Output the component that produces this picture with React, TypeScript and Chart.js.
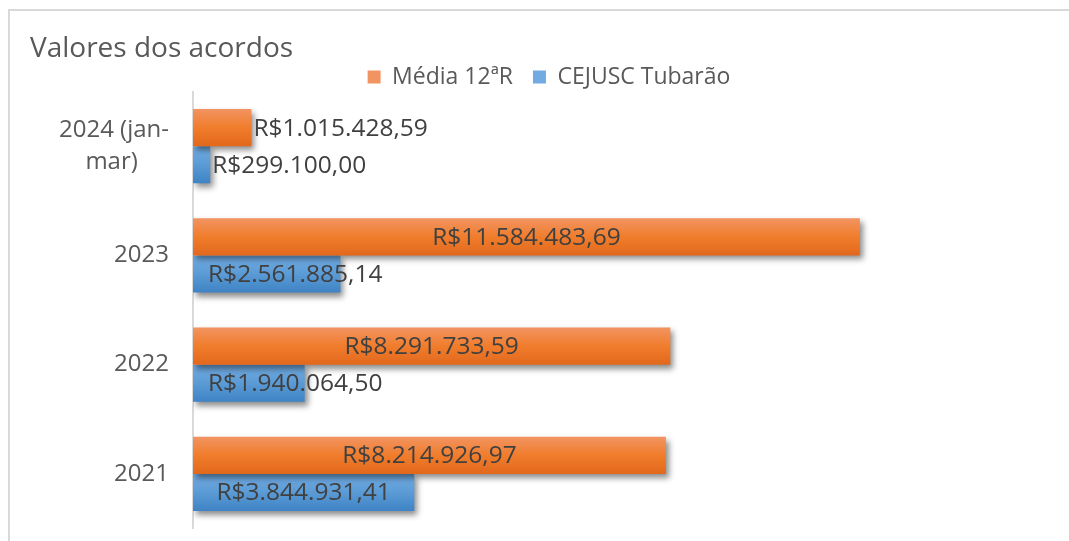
import React, { useEffect, useRef } from "react";
import { Chart, registerables } from "chart.js";

Chart.register(...registerables);

const TITLE = "Valores dos acordos";
const CATEGORIES: (string | string[])[] = [["2024 (jan-", "mar)"], "2023", "2022", "2021"];
const SERIES_NAMES = ["Média 12ªR", "CEJUSC Tubarão"];
const MEDIA_12R = [1015428.59, 11584483.69, 8291733.59, 8214926.97];
const CEJUSC_TUBARAO = [299100.0, 2561885.14, 1940064.5, 3844931.41];
const X_MAX = 15200000;

const FONT = "'Open Sans', 'Noto Sans', sans-serif";
const CAT_PCT = 0.68;
const TICK_SIZE = 24;
const LABEL_SIZE = 24.5;

const ORANGE_STOPS = ["#F29462", "#F07D2C", "#E2681C"];
const BLUE_STOPS = ["#72ABE2", "#5B9BD5", "#3E83C5"];

function formatBRL(v: number): string {
  const fixed = v.toFixed(2);
  const [intPart, dec] = fixed.split(".");
  const withDots = intPart.replace(/\B(?=(\d{3})+(?!\d))/g, ".");
  return "R$" + withDots + "," + dec;
}

function makeBg(stops: string[], solid: string) {
  return (ctx: any) => {
    const chart = ctx.chart;
    const yScale = chart.scales && chart.scales.y;
    if (ctx.type !== "data" || !yScale || !chart.chartArea) return solid;
    const center = yScale.getPixelForValue(ctx.dataIndex);
    const band = Math.abs(yScale.getPixelForValue(1) - yScale.getPixelForValue(0));
    const h = (band * CAT_PCT) / 2;
    const top = ctx.datasetIndex === 0 ? center - h : center;
    const g = chart.ctx.createLinearGradient(0, top, 0, top + h);
    g.addColorStop(0, stops[0]);
    g.addColorStop(0.5, stops[1]);
    g.addColorStop(1, stops[2]);
    return g;
  };
}

const shadowAndLabels = {
  id: "shadowAndLabels",
  beforeLayout(chart: any) {
    const legend = chart.legend;
    if (legend && !legend.__patched) {
      const orig = legend.fit.bind(legend);
      legend.fit = function () {
        orig();
        this.height = Math.max(0, this.height - 7);
      };
      legend.__patched = true;
    }
  },
  beforeDatasetsDraw(chart: any) {
    const ctx = chart.ctx;
    ctx.save();
    ctx.shadowColor = "rgba(0,0,0,0.45)";
    ctx.shadowBlur = 6;
    ctx.shadowOffsetX = 3;
    ctx.shadowOffsetY = 4;
  },
  afterDatasetsDraw(chart: any) {
    const ctx = chart.ctx;
    ctx.restore();
    ctx.save();
    ctx.font = `${LABEL_SIZE}px ${FONT}`;
    ctx.fillStyle = "#404040";
    ctx.textBaseline = "middle";
    chart.data.datasets.forEach((ds: any, di: number) => {
      const meta = chart.getDatasetMeta(di);
      meta.data.forEach((bar: any, i: number) => {
        const text = formatBRL(ds.data[i]);
        const w = ctx.measureText(text).width;
        const base = bar.base;
        const end = bar.x;
        const y = bar.y + 1;
        if (end - base < 100) {
          ctx.textAlign = "left";
          ctx.fillText(text, end + 2, y);
        } else {
          const mid = (base + end) / 2;
          const cx = Math.max(mid, base + 15 + w / 2);
          ctx.textAlign = "center";
          ctx.fillText(text, cx, y);
        }
      });
    });
    ctx.restore();
  },
};

export default function App() {
  const ref = useRef<HTMLCanvasElement | null>(null);

  useEffect(() => {
    if (!ref.current) return;
    const chart = new Chart(ref.current, {
      type: "bar",
      data: {
        labels: CATEGORIES as any,
        datasets: [
          {
            label: SERIES_NAMES[0],
            data: MEDIA_12R,
            backgroundColor: makeBg(ORANGE_STOPS, "#ED7D31") as any,
            borderWidth: 0,
            categoryPercentage: CAT_PCT,
            barPercentage: 1,
          },
          {
            label: SERIES_NAMES[1],
            data: CEJUSC_TUBARAO,
            backgroundColor: makeBg(BLUE_STOPS, "#5B9BD5") as any,
            borderWidth: 0,
            categoryPercentage: CAT_PCT,
            barPercentage: 1,
          },
        ],
      },
      options: {
        indexAxis: "y",
        responsive: false,
        animation: false,
        devicePixelRatio: 1,
        layout: { padding: { left: 30, right: 1, top: 0, bottom: 12.5 } },
        plugins: {
          title: {
            display: true,
            text: TITLE,
            align: "start",
            color: "#595959",
            font: { family: FONT, size: 28, weight: "normal" as any, lineHeight: 1.2 },
            padding: { top: 32.7, bottom: -20.8 },
          },
          legend: {
            display: true,
            position: "top",
            align: "center",
            labels: {
              color: "#595959",
              font: { family: FONT, size: 23 },
              boxWidth: 13,
              boxHeight: 13,
              padding: 20,
            },
          },
          tooltip: { enabled: false },
        },
        scales: {
          x: {
            display: false,
            min: 0,
            max: X_MAX,
          },
          y: {
            grid: { display: false, drawTicks: false },
            border: { display: true, color: "#d9d9d9", width: 2 },
            afterFit(scale: any) {
              scale.width = 163;
              scale.paddingTop = 0;
              scale.paddingBottom = 0;
            },
            ticks: {
              color: "#595959",
              padding: 24,
              font: { family: FONT, size: TICK_SIZE, lineHeight: 1.3 },
              callback: function (this: any, value: any) {
                const label = this.getLabelForValue(value);
                if (Array.isArray(label)) {
                  const c = this.ctx;
                  c.save();
                  c.font = `${TICK_SIZE}px ${FONT}`;
                  const widths = label.map((l: string) => c.measureText(l).width);
                  const maxW = Math.max(...widths);
                  const spaceW = c.measureText(" ").width || 6;
                  const out = label.map((l: string, k: number) => {
                    const n = Math.round((maxW - widths[k]) / 2 / spaceW);
                    return l + " ".repeat(n);
                  });
                  c.restore();
                  return out;
                }
                return label;
              },
            },
          },
        },
      },
      plugins: [shadowAndLabels],
    });
    return () => chart.destroy();
  }, []);

  return (
    <div
      style={{
        position: "absolute",
        left: 0,
        top: 0,
        width: 1069,
        height: 541,
        overflow: "hidden",
        background: "#ffffff",
      }}
    >
      <div
        style={{
          position: "absolute",
          left: 8,
          top: 9,
          width: 1200,
          height: 700,
          borderTop: "2px solid #d9d9d9",
          borderLeft: "2px solid #d9d9d9",
        }}
      />
      <canvas
        ref={ref}
        width={1069}
        height={541}
        style={{ position: "absolute", left: 0, top: 0, width: 1069, height: 541 }}
      />
    </div>
  );
}
